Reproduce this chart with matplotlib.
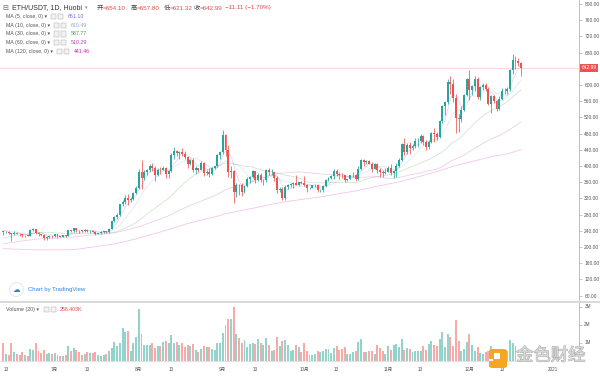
import numpy as np
import pandas as pd
import matplotlib
matplotlib.use("Agg")
import matplotlib.pyplot as plt
from matplotlib.patches import Rectangle, Ellipse, FancyBboxPatch
from matplotlib.lines import Line2D
import matplotlib.transforms as mtransforms
import matplotlib.patheffects as pe

plt.rcParams['font.family'] = ['Liberation Sans', 'Noto Sans CJK SC', 'DejaVu Sans']

# ---------------- data ----------------
# closes before the visible window (Feb 11 - Jun 11 2020), used only for the moving averages
pre_close = [
    236, 265, 268, 284, 265, 259, 267, 282, 258, 258, 265, 261, 274, 265, 248, 225, 227, 226, 218,
    218, 231, 224, 224, 228, 244, 237, 199, 200, 201, 194, 112, 133, 124, 125, 110, 117, 118, 136, 132,
    133, 122, 135, 138, 136, 138, 131, 131, 125, 132, 133,
    136, 141, 141, 144, 143, 170, 164, 173, 170, 158, 158, 161, 156, 157, 153, 172, 171, 186, 180, 170,
    171, 182, 185, 187, 194, 197, 197, 196, 216, 207,
    212, 214, 210, 207, 205, 204, 212, 212, 211, 188, 186, 190, 199, 203, 194, 200, 206, 214, 213, 209,
    198, 208, 206, 202, 204, 201, 208, 219, 220, 244, 231,
    248, 237, 244, 244, 240, 241, 244, 244, 243, 247, 231,
]

first_date = "2020-06-12"

open_ = [
    # Jun 12-30
    238.5, 237.0, 238.0, 233.5, 231.0, 235.5, 233.0, 231.0, 228.5, 229.0, 227.5, 243.0, 244.0, 235.0, 232.0, 229.5, 221.5, 225.0, 228.0,
    # Jul
    226.0, 231.0, 226.0, 225.0, 229.0, 227.5, 241.0, 239.0, 246.5, 242.0, 241.0, 239.0, 242.0, 239.0, 240.0, 238.0, 233.0, 233.5, 236.0, 239.0,
    236.0, 245.0, 263.0, 275.0, 279.0, 305.0, 311.0, 321.0, 317.0, 318.5, 334.5,
    # Aug
    345.5, 386.0, 370.0, 386.0, 389.0, 400.0, 394.0, 379.0, 391.0, 390.0, 395.0, 380.0, 387.0, 427.0, 437.0, 433.0, 434.0, 430.0, 423.0, 406.0,
    416.0, 389.0, 395.0, 391.0, 408.0, 383.0, 386.0, 381.0, 395.0, 399.0, 428.0,
    # Sep
    434.0, 477.0, 440.0, 385.0, 388.0, 335.0, 353.0, 352.0, 337.0, 351.0, 368.0, 374.0, 387.0, 365.0, 377.0, 365.0, 365.5, 389.0, 384.0, 384.5,
    371.0, 341.0, 344.0, 320.0, 349.0, 352.0, 355.0, 357.0, 354.0, 360.0,
    # Oct
    359.0, 353.0, 346.0, 346.5, 352.0, 353.0, 340.0, 341.0, 351.0, 365.0, 370.0, 375.0, 387.0, 381.0, 379.0, 377.0, 366.0, 368.0, 377.0, 379.0,
    369.0, 392.0, 414.0, 409.0, 412.0, 406.0, 393.0, 404.0, 389.0, 386.0, 383.0,
    # Nov
    386.0, 396.0, 383.0, 388.0, 401.0, 414.0, 454.0, 435.0, 453.0, 444.0, 449.0, 462.0, 462.5, 475.0, 460.0, 448.0, 460.0, 481.0, 479.0, 471.0,
    510.0, 549.0, 559.0, 608.0, 603.0, 568.0, 518.0, 517.0, 538.0, 575.0,
    # Dec 1-20
    614.0, 587.0, 598.0, 616.0, 570.0, 596.0, 601.0, 591.0, 554.0, 573.0, 560.0, 540.0, 565.0, 585.0, 586.0, 589.0, 636.0, 662.0, 660.0, 654.10,
]
high_ = [
    240.0, 239.0, 239.0, 233.8, 240.0, 238.0, 234.0, 232.5, 230.5, 230.0, 245.0, 247.5, 245.5, 236.0, 233.0, 231.0, 226.5, 229.0, 229.5,
    233.0, 231.5, 227.5, 230.0, 229.5, 242.0, 242.5, 248.0, 247.0, 243.0, 242.0, 243.5, 243.5, 241.5, 241.5, 238.5, 235.5, 238.5, 240.0, 239.5,
    247.0, 264.0, 277.0, 284.0, 307.0, 316.0, 329.0, 330.5, 324.0, 337.0, 349.5,
    393.0, 414.0, 390.0, 393.0, 404.0, 406.5, 400.0, 394.0, 398.0, 399.0, 397.0, 390.0, 431.0, 447.0, 440.0, 438.0, 444.0, 437.0, 425.5, 417.0,
    420.0, 399.0, 396.0, 412.0, 409.0, 390.0, 394.0, 397.0, 401.0, 430.0, 437.0,
    488.0, 480.0, 452.0, 401.0, 389.0, 357.0, 354.5, 357.0, 354.0, 373.0, 376.0, 391.0, 388.0, 382.0, 382.0, 368.0, 393.0, 394.0, 393.0, 385.0,
    376.0, 347.0, 348.0, 352.0, 356.0, 358.0, 360.0, 378.0, 361.0, 363.0,
    375.0, 355.0, 349.0, 354.0, 356.0, 355.0, 343.0, 353.0, 368.0, 374.0, 378.0, 393.0, 392.0, 384.0, 382.0, 379.0, 369.0, 378.0, 385.0, 380.0,
    401.0, 418.0, 418.0, 415.0, 415.0, 410.0, 408.0, 408.0, 394.0, 389.0, 396.0,
    399.0, 405.0, 391.0, 408.0, 419.0, 457.0, 468.0, 456.0, 459.0, 455.0, 469.0, 468.0, 478.0, 476.0, 464.0, 463.0, 484.0, 495.0, 483.0, 513.0,
    551.0, 560.0, 614.0, 622.0, 615.0, 578.0, 528.0, 547.0, 578.0, 617.0,
    637.0, 600.0, 622.0, 619.0, 598.0, 605.0, 604.0, 594.0, 576.0, 576.0, 562.0, 572.0, 592.0, 592.0, 596.0, 639.0, 677.0, 672.0, 667.0, 657.80,
]
low_ = [
    229.0, 234.0, 231.0, 215.0, 229.0, 231.0, 228.0, 224.0, 225.0, 226.0, 226.5, 240.5, 232.0, 228.0, 226.0, 217.0, 218.0, 223.0, 223.0,
    224.5, 223.0, 223.5, 224.5, 224.5, 226.5, 237.5, 238.0, 236.0, 235.0, 237.0, 236.0, 236.0, 233.5, 236.0, 229.5, 231.5, 232.5, 234.0, 234.5,
    235.5, 244.0, 260.5, 270.0, 277.0, 301.0, 305.5, 304.5, 312.0, 316.0, 330.0,
    344.0, 343.0, 365.0, 377.0, 384.0, 387.0, 363.0, 376.0, 381.0, 389.0, 371.0, 370.0, 384.0, 418.0, 424.0, 417.0, 425.0, 417.0, 395.0, 402.0,
    385.0, 380.0, 385.0, 389.0, 375.0, 379.0, 374.0, 379.0, 393.0, 397.0, 418.0,
    430.0, 425.0, 374.0, 370.0, 308.0, 323.0, 329.0, 325.0, 334.0, 347.0, 359.0, 370.0, 357.0, 362.0, 360.0, 354.0, 360.0, 377.0, 379.0, 364.0,
    334.0, 335.0, 315.0, 317.0, 343.0, 348.0, 346.0, 353.0, 350.0, 355.0,
    351.0, 337.0, 343.0, 345.0, 347.0, 336.0, 336.0, 337.0, 348.0, 363.0, 367.0, 368.0, 375.0, 368.0, 370.0, 361.0, 363.0, 367.0, 373.0, 364.0,
    366.0, 390.0, 400.0, 406.0, 404.0, 385.0, 392.0, 382.0, 374.0, 372.0, 380.0,
    385.0, 379.0, 370.0, 374.0, 398.0, 412.0, 428.0, 429.0, 429.0, 440.0, 445.0, 448.0, 456.0, 452.0, 440.0, 443.0, 456.0, 460.0, 464.0, 470.0,
    505.0, 525.0, 553.0, 577.0, 558.0, 482.0, 485.0, 508.0, 535.0, 573.0,
    563.0, 575.0, 585.0, 565.0, 563.0, 588.0, 585.0, 550.0, 530.0, 555.0, 535.0, 538.0, 563.0, 577.0, 579.0, 585.0, 628.0, 640.0, 646.0, 621.32,
]
close_ = [
    237.0, 238.0, 233.5, 231.0, 235.5, 233.0, 231.0, 228.5, 229.0, 227.5, 243.0, 244.0, 235.0, 232.0, 229.5, 221.5, 225.0, 228.0, 226.0,
    231.0, 226.0, 225.0, 229.0, 227.5, 241.0, 239.0, 246.5, 242.0, 241.0, 239.0, 242.0, 239.0, 240.0, 238.0, 233.0, 233.5, 236.0, 239.0, 236.0,
    245.0, 263.0, 275.0, 279.0, 305.0, 311.0, 321.0, 317.0, 318.5, 334.5, 345.5,
    386.0, 370.0, 386.0, 389.0, 400.0, 394.0, 379.0, 391.0, 390.0, 395.0, 380.0, 387.0, 427.0, 437.0, 433.0, 434.0, 430.0, 423.0, 406.0, 416.0,
    389.0, 395.0, 391.0, 408.0, 383.0, 386.0, 381.0, 395.0, 399.0, 428.0, 434.0,
    477.0, 440.0, 385.0, 388.0, 335.0, 353.0, 352.0, 337.0, 351.0, 368.0, 374.0, 387.0, 365.0, 377.0, 365.0, 365.5, 389.0, 384.0, 384.5, 371.0,
    341.0, 344.0, 320.0, 349.0, 352.0, 355.0, 357.0, 354.0, 360.0, 359.0,
    353.0, 346.0, 346.5, 352.0, 353.0, 340.0, 341.0, 351.0, 365.0, 370.0, 375.0, 387.0, 381.0, 379.0, 377.0, 366.0, 368.0, 377.0, 379.0, 369.0,
    392.0, 414.0, 409.0, 412.0, 406.0, 393.0, 404.0, 389.0, 386.0, 383.0, 386.0,
    396.0, 383.0, 388.0, 401.0, 414.0, 454.0, 435.0, 453.0, 444.0, 449.0, 462.0, 462.5, 475.0, 460.0, 448.0, 460.0, 481.0, 479.0, 471.0, 510.0,
    549.0, 559.0, 608.0, 603.0, 568.0, 518.0, 517.0, 538.0, 575.0, 614.0,
    587.0, 598.0, 616.0, 570.0, 596.0, 601.0, 591.0, 554.0, 573.0, 560.0, 540.0, 565.0, 585.0, 586.0, 589.0, 636.0, 662.0, 660.0, 654.1, 642.99,
]
volume_m = [
    0.95, 0.35, 0.33, 0.95, 0.45, 0.38, 0.33, 0.45, 0.30, 0.25, 0.62, 0.60, 0.95, 0.55, 0.42, 0.60, 0.35, 0.40, 0.38,
    0.40, 0.32, 0.25, 0.25, 0.30, 0.78, 0.55, 0.68, 0.60, 0.50, 0.30, 0.35, 0.45, 0.40, 0.40, 0.50, 0.28, 0.25, 0.30, 0.35,
    0.55, 0.70, 1.05, 0.80, 0.95, 1.81, 1.57, 1.63, 0.55, 1.00, 1.33,
    2.87, 1.48, 0.85, 0.87, 0.87, 0.98, 0.70, 0.78, 0.78, 1.02, 1.11, 0.95, 1.43, 0.95, 1.02, 0.87, 1.00, 0.74, 0.87, 0.78,
    0.92, 0.56, 0.46, 0.65, 0.80, 0.75, 0.74, 0.65, 0.56, 1.00, 0.98,
    1.54, 2.00, 2.28, 2.30, 2.96, 1.48, 1.26, 1.00, 1.15, 0.77, 0.92, 0.96, 0.93, 1.20, 0.95, 0.85, 1.25, 0.85, 0.55, 0.60,
    1.30, 0.80, 1.10, 1.15, 0.85, 0.55, 0.58, 0.85, 0.75, 0.45,
    0.98, 0.55, 0.30, 0.30, 0.35, 0.55, 0.45, 0.55, 0.65, 0.65, 0.40, 0.70, 0.83, 0.60, 0.65, 0.75, 0.35, 0.35, 0.45, 0.55,
    1.05, 1.20, 0.45, 0.50, 0.52, 0.55, 0.38, 0.87, 0.68, 0.52, 0.35,
    0.80, 0.60, 0.85, 0.90, 0.75, 1.20, 0.60, 0.70, 0.65, 0.45, 0.55, 0.55, 0.55, 0.80, 0.60, 0.90, 1.10, 0.85, 0.82, 1.20,
    1.57, 0.75, 1.48, 1.30, 0.83, 2.26, 1.10, 0.55, 0.65, 1.02,
    1.48, 0.85, 0.55, 0.75, 0.40, 0.35, 0.45, 0.55, 0.82, 0.60, 0.55, 0.50, 0.50, 0.45, 0.55, 1.15, 1.00, 0.80, 0.70, 0.256,
]

ma_periods = [5, 10, 30, 60, 120]
ma_colors = ['#7b68ee', '#86a9c2', '#43a047', '#b044b4', '#d81bb8']
ma_legend_values = ['651.10', '610.49', '587.77', '510.29', '441.46']
volume_legend_value = '256.403K'

price_ticks = list(range(80, 801, 40))
volume_ticks = [1, 2, 3]
volume_tick_labels = ['1M', '2M', '3M']
x_tick_dates = ['2020-06-13', '2020-07-01', '2020-07-13', '2020-08-01', '2020-08-13', '2020-09-01',
                '2020-09-13', '2020-10-01', '2020-10-13', '2020-11-01', '2020-11-13', '2020-12-01',
                '2020-12-13', '2021-01-01']
x_tick_labels = ['13', '7月', '13', '8月', '13', '9月', '13', '10月', '13', '11月', '13', '12月', '13', '2021']

n = len(close_)
assert len(open_) == n and len(high_) == n and len(low_) == n and len(volume_m) == n

# ---------------- layout helpers ----------------
W, H = 600, 376
fig = plt.figure(figsize=(6, 3.76), dpi=100)
fig.patch.set_facecolor('white')


def fx(px):
    return px / W


def fy(py):
    return 1 - py / H


REF = pd.Timestamp('2020-06-13')
PX0, PXD = 6.0, 2.71


def px2day(px):
    return (px - PX0) / PXD


dates = pd.date_range(first_date, periods=n, freq='D')
xd = np.array((dates - REF).days, dtype=float)
O = np.array(open_)
Hh = np.array(high_)
L = np.array(low_)
C = np.array(close_)
V = np.array(volume_m)

GREEN = '#26a69a'
RED = '#ef5350'
VGREEN = '#93d3cc'
VRED = '#f7aaa8'
up = C >= O
cols = np.where(up, GREEN, RED)
vcols = np.where(up, VGREEN, VRED)

# ---------------- price pane ----------------
ax = fig.add_axes([0, fy(300), fx(579), 300 / H])
ax.set_xlim(px2day(0), px2day(579))
ax.set_ylim(69.1, 809.9)

full_close = np.array(pre_close + close_, dtype=float)
npre = len(pre_close)
for per, colr in zip(ma_periods, ma_colors):
    ma = pd.Series(full_close).rolling(per).mean().to_numpy()[npre:]
    ax.plot(xd, ma, color=colr, lw=0.55, alpha=0.28, zorder=1)

ax.vlines(xd, L, Hh, colors=cols, lw=0.55, zorder=2)
body = np.maximum(np.abs(C - O), 0.9)
ax.bar(xd, body, bottom=np.minimum(O, C), width=0.72, color=cols, lw=0, zorder=3)

last = C[-1]
ax.axhline(last, color=RED, lw=0.5, alpha=0.3, zorder=0)

ax.yaxis.tick_right()
ax.set_yticks(price_ticks)
# the tick label right under the last-price marker is hidden by it
ax.set_yticklabels(['' if abs(v - last) < 12 else f'{v:.2f}' for v in price_ticks])
ax.tick_params(axis='y', which='both', right=True, left=False, labelright=True, labelleft=False,
               length=2, width=0.4, color='#999999', labelsize=3.5, labelcolor='#555555', pad=1.8)
ax.set_xticks([])
for s in ['top', 'left', 'bottom']:
    ax.spines[s].set_visible(False)
ax.spines['right'].set_color('#b5b5b5')
ax.spines['right'].set_linewidth(0.6)

trans = mtransforms.blended_transform_factory(ax.transAxes, ax.transData)
ax.text(1.004, last, f'{last:.2f}', transform=trans, fontsize=3.5, color='white', va='center', ha='left',
        bbox=dict(boxstyle='square,pad=0.3', fc=RED, ec='none'), clip_on=False, zorder=5)

# ---------------- volume pane ----------------
ax2 = fig.add_axes([0, fy(360.5), fx(579), 57.5 / H])
ax2.set_xlim(px2day(0), px2day(579))
ax2.set_ylim(0, 57.5 / 18.0)
ax2.bar(xd, V, width=0.72, color=vcols, lw=0)
ax2.yaxis.tick_right()
ax2.set_yticks(volume_ticks)
ax2.set_yticklabels(volume_tick_labels)
ax2.tick_params(axis='y', right=True, left=False, labelright=True, labelleft=False,
                length=2, width=0.4, color='#999999', labelsize=3.3, labelcolor='#555555', pad=1.8)
tick_days = [(pd.Timestamp(d) - REF).days for d in x_tick_dates]
ax2.set_xticks(tick_days)
ax2.set_xticklabels(x_tick_labels)
ax2.tick_params(axis='x', length=0, labelsize=3.3, labelcolor='#555555', pad=4.6)
for s in ['top', 'left']:
    ax2.spines[s].set_visible(False)
ax2.spines['right'].set_color('#b5b5b5')
ax2.spines['right'].set_linewidth(0.6)
ax2.spines['bottom'].set_color('#dddddd')
ax2.spines['bottom'].set_linewidth(0.6)

# pane separator
fig.add_artist(Line2D([0, 1], [fy(301.5), fy(301.5)], color='#d0d0d0', lw=1.1))

# ---------------- header ----------------
DARK = '#444444'
VALRED = '#e5484b'
hy = fy(8)
fig.text(fx(2.5), hy, '⊟', fontsize=5, color='#666666', va='center', family=['DejaVu Sans'])
fig.text(fx(12.5), hy, 'ETH/USDT, 1D, Huobi', fontsize=5.0, color='#333333', va='center')
fig.text(fx(85), hy, '▾', fontsize=3.5, color='#888888', va='center', family=['DejaVu Sans'])
chg = C[-1] - O[-1]
pct = chg / O[-1] * 100
pieces = [('开', 96.5, DARK), (f'={O[-1]:.2f}', 102.5, VALRED),
          ('高', 130.5, DARK), (f'={Hh[-1]:.2f}', 136.5, VALRED),
          ('低', 163.5, DARK), (f'={L[-1]:.2f}', 169.5, VALRED),
          ('收', 193.5, DARK), (f'={C[-1]:.2f}', 199.5, VALRED),
          (f'{chg:.2f} ({pct:.2f}%)'.replace('-', '−'), 225, VALRED)]
for txt, px, colr in pieces:
    fig.text(fx(px), hy, txt, fontsize=4.5, color=colr, va='center')

# MA legend rows
row_y = [16.5, 25.2, 33.9, 42.6, 51.3]
icon_x = [51, 54, 54, 54, 57]
for per, colr, val, ry, ix in zip(ma_periods, ma_colors, ma_legend_values, row_y, icon_x):
    fig.text(fx(6), fy(ry), f'MA ({per}, close, 0) ▾', fontsize=3.8, color='#555555', va='center')
    for k in range(2):
        fig.add_artist(Rectangle((fx(ix + k * 6.5), fy(ry + 2.6)), fx(5), 5.2 / H,
                                 fc='#f2f2f2', ec='#b0b0b0', lw=0.35))
    fig.text(fx(ix + 17), fy(ry), val, fontsize=3.8, color=colr, va='center')

# volume legend
vy = 309.5
fig.text(fx(6), fy(vy), 'Volume (20) ▾', fontsize=3.8, color='#555555', va='center')
for k in range(2):
    fig.add_artist(Rectangle((fx(44 + k * 6.5), fy(vy + 2.6)), fx(5), 5.2 / H,
                             fc='#f2f2f2', ec='#b0b0b0', lw=0.35))
fig.text(fx(60), fy(vy), volume_legend_value, fontsize=3.8, color=VALRED, va='center')

# TradingView attribution
fig.add_artist(Ellipse((fx(16.5), fy(289.5)), 14 / W, 14 / H, fc='white', ec='#e3e3e3', lw=0.6))
fig.text(fx(16.5), fy(289.8), '☁', fontsize=5.5, color='#2e86de', ha='center', va='center', family=['DejaVu Sans'])
fig.text(fx(28), fy(289.5), 'Chart by TradingView', fontsize=4.3, color='#2e86de', va='center')

# watermark (logo + text)
fig.add_artist(FancyBboxPatch((fx(489), fy(368)), fx(18), 19 / H,
                              boxstyle='round,pad=0,rounding_size=0.006', fc='#f5a623', ec='none', zorder=6))
fig.add_artist(Rectangle((fx(494), fy(359)), fx(6), 6 / H, fc='white', ec='none', zorder=7))
fig.add_artist(Rectangle((fx(489), fy(361)), fx(4), 2 / H, fc='white', ec='none', zorder=7))
fig.add_artist(Rectangle((fx(516), fy(365)), fx(62), 19 / H, fc='white', ec='none', alpha=0.85, zorder=7))
fig.text(fx(516), fy(355.5), '金色财经', fontsize=12.5, color='#d9d9d9', va='center', ha='left',
         family=['Noto Sans CJK SC'], zorder=8,
         path_effects=[pe.withStroke(linewidth=0.7, foreground='#a9a9a9')])

fig.savefig('out.png', dpi=100, facecolor='white')
